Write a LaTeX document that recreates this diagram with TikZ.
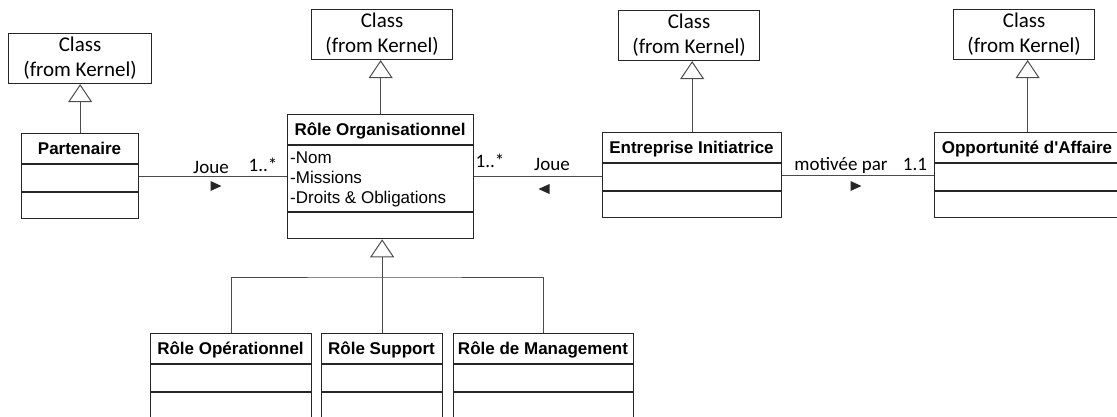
\documentclass[tikz,border=0pt]{standalone}
\usepackage{fontspec}
\setmainfont{Liberation Sans}
\newfontfamily\calibri{Carlito}
\usetikzlibrary{arrows.meta, positioning, calc}
\colorlet{boxline}{black!85}
\colorlet{linkline}{black!70}

\tikzset{
  classbox/.style={draw=boxline, line width=1.3pt, inner sep=0pt, anchor=north west},
  kernelbox/.style={draw=boxline, line width=1.1pt, inner sep=0pt, anchor=north west,
    align=center, font=\calibri\fontsize{21}{25}\selectfont},
  classname/.style={font=\fontsize{17}{20}\selectfont\bfseries, anchor=base, inner sep=0pt},
  attrib/.style={font=\fontsize{17}{20}\selectfont, anchor=base west, inner sep=0pt},
  linklabel/.style={font=\calibri\fontsize{19}{22}\selectfont, anchor=base, inner sep=0pt},
  link/.style={draw=linkline, line width=0.9pt},
  generalize/.style={link, -{Triangle[open, length=18pt, width=24pt, line width=1pt, fill=white]}}
}

% #1 name, #2 left, #3 top, #4 right, #5 bottom, #6 title
\newcommand{\umlclass}[6]{%
  \node[classbox, minimum width={(#4-#2)*1pt}, minimum height={(#5-#3)*1pt}] (#1) at (#2,#3) {};
  \draw[boxline, line width=1.3pt] (#2,#3+31) -- (#4,#3+31);
  \draw[boxline, line width=1.3pt] (#2,#5-26) -- (#4,#5-26);
  \node[classname] (#1-name) at ({(#2+#4)/2},#3+21.5) {#6};
}
% #1 name, #2 left, #3 top, #4 right
\newcommand{\kernelclass}[4]{%
  \node[kernelbox, minimum width={(#4-#2)*1pt}, minimum height=50pt] (#1) at (#2,#3) {Class\\(from Kernel)};
}
\newcommand{\dirright}[2]{%
  \fill[boxline] (#1-5.5,#2-5) -- (#1+5.5,#2) -- (#1-5.5,#2+5) -- cycle;
}
\newcommand{\dirleft}[2]{%
  \fill[boxline] (#1+5.5,#2-5) -- (#1-5.5,#2) -- (#1+5.5,#2+5) -- cycle;
}

\begin{document}
\begin{tikzpicture}[x=1pt, y=-1pt]
  \useasboundingbox (0,0) rectangle (1117,416);

  % Kernel
  \kernelclass{kpart}{8}{33}{151}
  \kernelclass{krole}{311}{9}{452}
  \kernelclass{kent}{618}{10}{759}
  \kernelclass{kopp}{953}{9}{1094}

  % Classes
  \umlclass{part}{21}{133}{138}{218}{Partenaire}
  \umlclass{role}{287}{114}{473}{238}{Rôle Organisationnel}
  \umlclass{ent}{602}{132}{781}{217}{Entreprise Initiatrice}
  \umlclass{opp}{934}{132}{1120}{217}{Opportunité d\textquotesingle Affaire}
  \node[attrib] (nom) at (290,163) {-Nom};
  \node[attrib] (missions) at (290,183) {-Missions};
  \node[attrib] (droits) at (290,203) {-Droits \& Obligations};

  \umlclass{oper}{150}{333}{311}{418}{Rôle Opérationnel}
  \umlclass{supp}{321}{333}{442}{418}{Rôle Support}
  \umlclass{mgmt}{453}{333}{633}{418}{Rôle de Management}

  % Generalisations
  \draw[generalize] (part.north) -- (part.north |- kpart.south);
  \draw[generalize] (role.north) -- (role.north |- krole.south);
  \draw[generalize] (ent.north) -- (ent.north |- kent.south);
  \draw[generalize] (opp.north) -- (opp.north |- kopp.south);

  \coordinate (fork) at (381.5,277);
  \draw[link] (oper.north) |- (fork) -| (mgmt.north);
  \draw[generalize] (supp.north) -- (supp.north |- role.south);

  % Associations
  \draw[link] (part.east) -- (part.east -| role.west);
  \draw[link] (role.east) -- (role.east -| ent.west);
  \draw[link] (ent.east) -- (ent.east -| opp.west);

  \node[linklabel] (joueA) at (211,173) {Joue};
  \node[linklabel] (multA) at (263,171) {1..*};
  \dirright{216}{186}

  \node[linklabel] (multB) at (490,167) {1..*};
  \node[linklabel] (joueB) at (552,170) {Joue};
  \dirleft{544}{189}

  \node[linklabel] (motiv) at (841,170) {motivée par};
  \node[linklabel] (multC) at (915,170) {1.1};
  \dirright{856}{186}
\end{tikzpicture}
\end{document}
